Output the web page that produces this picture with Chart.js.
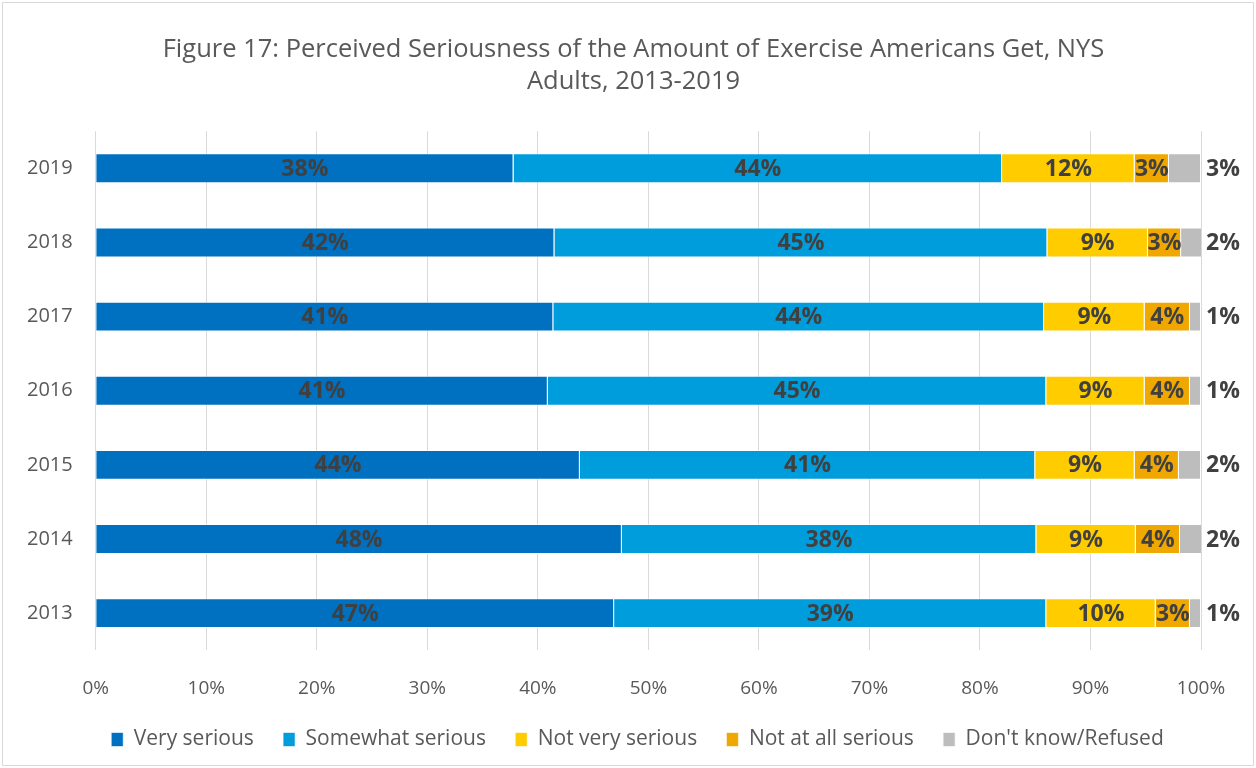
<!DOCTYPE html>
<html>
<head>
<meta charset="utf-8">
<script src="https://cdn.jsdelivr.net/npm/chart.js@4"></script>
<style>
body{margin:0;background:#fff;}
#wrap{width:1256px;height:768px;}
</style>
</head>
<body>
<div id="wrap"><canvas id="grafik" width="1256" height="768"></canvas></div>
<script>
const years = ['2019','2018','2017','2016','2015','2014','2013'];
const verySerious     = [37.8, 41.5, 41.4, 40.9, 43.8, 47.6, 46.9];
const somewhatSerious = [44.2, 44.6, 44.4, 45.1, 41.2, 37.5, 39.1];
const notVerySerious  = [12.0, 9.1, 9.1, 8.9, 9.0, 9.0, 9.9];
const notAtAll        = [3.1, 3.0, 4.1, 4.1, 4.0, 4.0, 3.1];
const dontKnow        = [2.9, 1.9, 1.0, 1.0, 2.0, 2.0, 1.0];
const seriesNames = ['Very serious','Somewhat serious','Not very serious','Not at all serious',"Don't know/Refused"];
const seriesColors = ['#0070C0','#009DDC','#FFCC00','#F0A800','#BDBDBD'];
const tickLabels = ['0%','10%','20%','30%','40%','50%','60%','70%','80%','90%','100%'];

const FONT = "'Open Sans', sans-serif";

const bgBorder = {
	id:'bgBorder',
	beforeDraw:(chart)=>{
		const c = chart.ctx;
		c.save();
		c.fillStyle = '#fff';
		c.fillRect(0,0,chart.width,chart.height);
		c.strokeStyle = '#d9d9d9';
		c.lineWidth = 1;
		c.strokeRect(2.5,2.5,chart.width-5,chart.height-5);
		c.restore();
	}
};

// title and legend are centred on the whole picture, not on the padded area
const recenter = {
	id:'recenter',
	afterLayout:(chart)=>{
		chart.titleBlock.left += 27;
		chart.titleBlock.right += 27;
		chart.legend.left += 31;
		chart.legend.right += 31;
	}
};

const barLabels = {
	id:'barLabels',
	afterDatasetsDraw:(chart)=>{
		const c = chart.ctx;
		c.save();
		c.font = "bold 23px " + FONT;
		c.fillStyle = '#404040';
		c.textAlign = 'center';
		c.textBaseline = 'middle';
		chart.data.datasets.forEach((ds,i)=>{
			const meta = chart.getDatasetMeta(i);
			meta.data.forEach((el,j)=>{
				const txt = Math.round(ds.data[j]) + '%';
				let x = (el.x + el.base)/2;
				if (i === 4) x = chart.chartArea.right + 22;
				c.fillText(txt, x, el.y + 1);
			});
		});
		c.restore();
	}
};

const ctx = document.getElementById('grafik');
const allSeries = [verySerious, somewhatSerious, notVerySerious, notAtAll, dontKnow];

new Chart(ctx, {
	type: 'bar',
	data: {
		labels: years,
		datasets: allSeries.map((d,i)=>({
			label: seriesNames[i],
			data: d,
			backgroundColor: seriesColors[i],
			borderColor: 'rgba(255,255,255,0.6)',
			borderWidth: 1,
			barPercentage: 0.8,
			categoryPercentage: 0.505
		}))
	},
	options: {
		responsive: false,
		animation: false,
		indexAxis: 'y',
		layout: { padding: { top: 20, left: 12, right: 55, bottom: 8 } },
		plugins: {
			title: {
				display: true,
				text: ['Figure 17: Perceived Seriousness of the Amount of Exercise Americans Get, NYS','Adults, 2013-2019'],
				color: '#595959',
				font: { family: FONT, size: 25.5, weight: 'normal', lineHeight: 1.28 },
				padding: { top: 13, bottom: 33 }
			},
			legend: {
				position: 'bottom',
				labels: {
					color: '#595959',
					font: { family: FONT, size: 21 },
					boxWidth: 12,
					boxHeight: 14,
					padding: 2,
					generateLabels: (chart)=>Chart.defaults.plugins.legend.labels.generateLabels(chart).map((l,i,a)=>{
						if (i < a.length - 1) l.text = l.text + '     ';
						return l;
					})
				}
			},
			tooltip: { enabled: false }
		},
		scales: {
			x: {
				stacked: true,
				min: 0,
				max: 100,
				grid: { color: '#d9d9d9', drawTicks: false },
				border: { display: false },
				ticks: {
					stepSize: 10,
					color: '#595959',
					font: { family: FONT, size: 19 },
					padding: 27,
					callback: (v,i)=>tickLabels[i]
				}
			},
			y: {
				stacked: true,
				grid: { display: false },
				border: { display: false },
				ticks: {
					color: '#595959',
					font: { family: FONT, size: 20 },
					padding: 15
				}
			}
		}
	},
	plugins: [bgBorder, recenter, barLabels]
});
</script>
</body>
</html>
